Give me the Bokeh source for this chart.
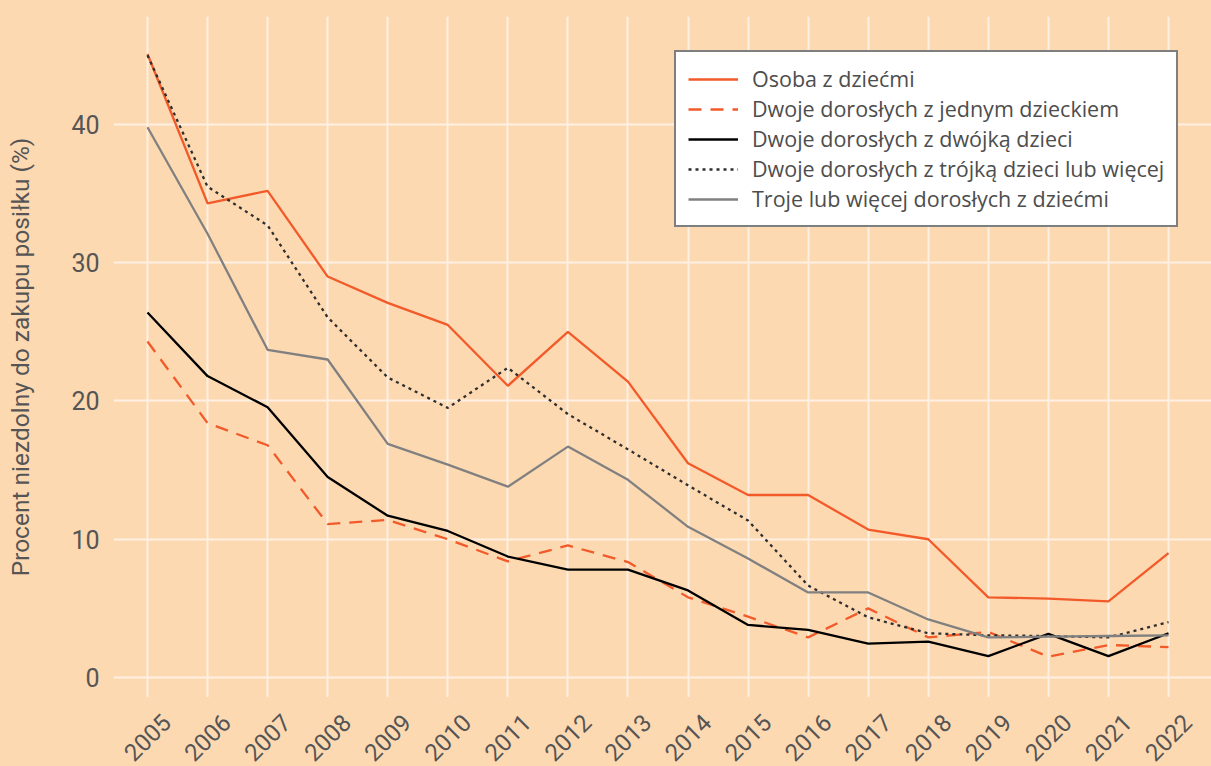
import math
from bokeh.plotting import figure
from bokeh.layouts import column
from bokeh.models import Range1d, FixedTicker, Legend, LegendItem
from bokeh.core.properties import value
from bokeh.embed import file_html
from bokeh.resources import INLINE

YEARS = list(range(2005, 2023))
osoba = [45.1, 34.3, 35.2, 29.0, 27.1, 25.5, 21.1, 25.0, 21.4, 15.5, 13.2, 13.2, 10.7, 10.0, 5.8, 5.7, 5.5, 9.0]
jedno = [24.3, 18.4, 16.8, 11.1, 11.4, 10.0, 8.4, 9.55, 8.35, 5.8, 4.4, 2.9, 5.0, 2.9, 3.3, 1.5, 2.35, 2.2]
dwojka = [26.4, 21.8, 19.55, 14.5, 11.7, 10.6, 8.75, 7.8, 7.8, 6.3, 3.8, 3.45, 2.45, 2.6, 1.55, 3.15, 1.55, 3.2]
trojka = [45.0, 35.5, 32.7, 26.05, 21.7, 19.5, 22.4, 19.05, 16.5, 13.9, 11.35, 6.65, 4.35, 3.2, 3.05, 3.0, 2.9, 4.0]
troje = [39.8, 32.1, 23.7, 23.0, 16.9, 15.4, 13.8, 16.7, 14.3, 10.9, 8.6, 6.15, 6.15, 4.2, 2.9, 2.95, 3.0, 3.05]

LABELS = [
    "Osoba z dziećmi",
    "Dwoje dorosłych z jednym dzieckiem",
    "Dwoje dorosłych z dwójką dzieci",
    "Dwoje dorosłych z trójką dzieci lub więcej",
    "Troje lub więcej dorosłych z dziećmi",
]
Y_TICKS = [0, 10, 20, 30, 40]
X_TICK_LABELS = [str(y) for y in YEARS]

BG = "#FDD9B2"
GRID = "#FEF0E2"
ORANGE = "#F25A2A"
FONT = "Roboto"
TXT = "#555555"

p = figure(width=1211, height=697, output_backend="svg", toolbar_location=None,
           x_range=Range1d(2004.434, 2022.716), y_range=Range1d(-1.447, 47.81),
           min_border_left=113, min_border_right=0, min_border_top=16, min_border_bottom=0,
           styles={"background-color": BG})
p.background_fill_color = BG
p.border_fill_color = BG
p.outline_line_color = None

styles = [
    dict(color=ORANGE, line_dash="solid"),
    dict(color=ORANGE, line_dash="13 9"),
    dict(color="#000000", line_dash="solid"),
    dict(color="#2E2E2E", line_dash="3 4"),
    dict(color="#808080", line_dash="solid"),
]
series = [osoba, jedno, dwojka, trojka, troje]
items = []
for lab, ys, st in zip(LABELS, series, styles):
    r = p.line(YEARS, ys, line_color=st["color"], line_dash=st["line_dash"], line_width=2.3)
    items.append(LegendItem(label=lab, renderers=[r]))

p.xaxis.visible = False
p.xgrid.ticker = FixedTicker(ticks=YEARS)

p.yaxis.ticker = FixedTicker(ticks=Y_TICKS)
ax = p.yaxis
ax.axis_line_color = None
ax.major_tick_line_color = None
ax.minor_tick_line_color = None
ax.major_tick_out = 0
ax.major_tick_in = 0
ax.major_label_text_font = FONT
ax.major_label_text_color = TXT
ax.major_label_text_font_size = "25px"
ax.major_label_standoff = 14
ax.axis_label = "Procent niezdolny do zakupu posiłku (%)"
ax.axis_label_text_font = FONT
ax.axis_label_text_font_size = "24.5px"
ax.axis_label_text_font_style = "normal"
ax.axis_label_text_color = TXT
ax.axis_label_standoff = 33

p.xgrid.grid_line_color = GRID
p.ygrid.grid_line_color = GRID
p.xgrid.grid_line_width = 2
p.ygrid.grid_line_width = 2

legend = Legend(items=items, location=(561, 470))
legend.background_fill_color = "white"
legend.background_fill_alpha = 1
legend.border_line_color = "black"
legend.border_line_width = 2
legend.label_text_font = "Open Sans"
legend.label_text_font_size = "21.5px"
legend.label_text_color = "#4D4D4D"
legend.glyph_width = 50
legend.glyph_height = 20
legend.label_height = 20
legend.spacing = 1
legend.padding = 12
legend.margin = 0
legend.label_standoff = 14
p.add_layout(legend, "center")

# strip below the plot carrying the rotated year labels (shares the x scale)
p2 = figure(width=1211, height=69, output_backend="svg", toolbar_location=None,
            x_range=p.x_range, y_range=Range1d(0, 69),
            x_axis_type=None, y_axis_type=None,
            min_border_left=113, min_border_right=0, min_border_top=0, min_border_bottom=0,
            styles={"background-color": BG})
p2.background_fill_color = BG
p2.border_fill_color = BG
p2.outline_line_color = None
p2.text(x=YEARS, y=[48] * len(YEARS), text=X_TICK_LABELS, angle=math.pi / 4,
        x_offset=19, text_align="right", text_baseline="middle",
        text_font=value(FONT), text_font_size="24px", text_color=TXT)

layout = column(p, p2, spacing=0, styles={"background-color": BG})
open("out.html", "w").write(file_html(layout, INLINE))
